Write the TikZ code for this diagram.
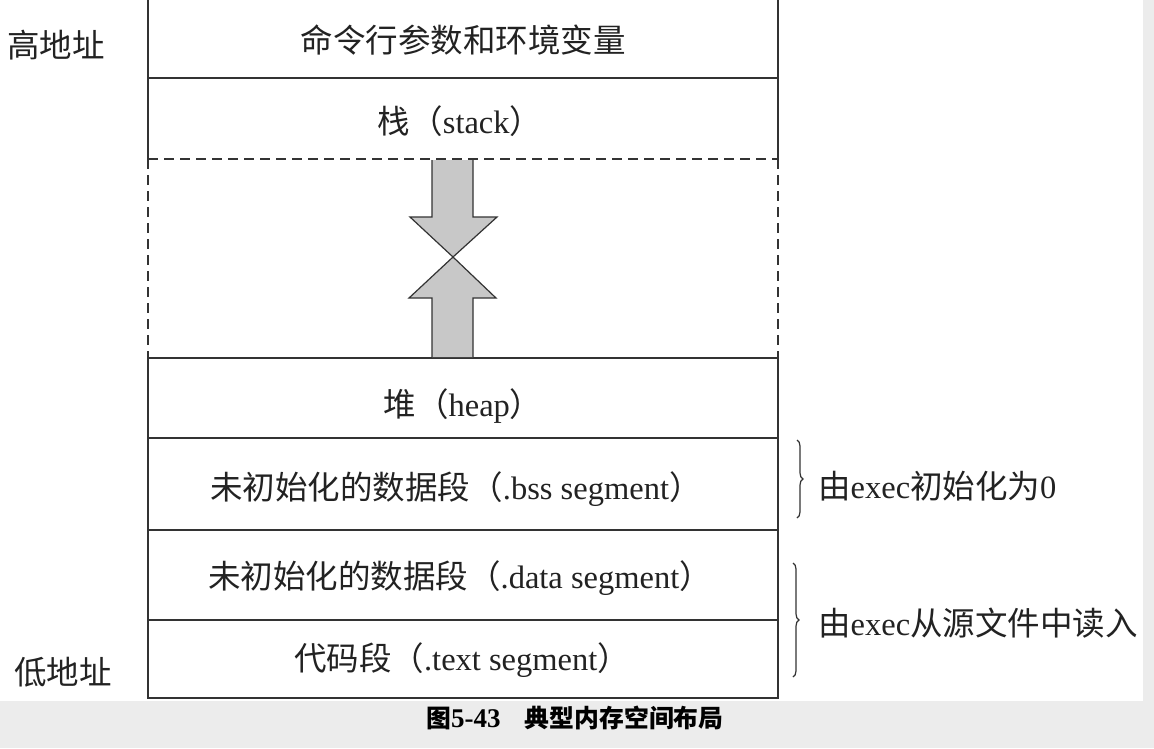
\documentclass[tikz,border=0pt]{standalone}
\usepackage{fontspec}
\setmainfont{Liberation Serif}
\newfontfamily\cjk{Noto Sans CJK SC}
\newfontfamily\cjkcap{Noto Sans CJK SC}[Scale=0.92]
\newcommand\zh[1]{{\cjk #1}}
\usetikzlibrary{decorations.pathreplacing}
\definecolor{lc}{HTML}{333333}
\definecolor{tc}{HTML}{222222}
\definecolor{ag}{HTML}{C8C8C8}
\definecolor{bgg}{HTML}{ECECEC}
\begin{document}
\begin{tikzpicture}[x=1pt,y=-1pt,
  seg/.style={draw=lc, line width=1.6pt},
  dseg/.style={draw=lc, line width=1.4pt, dash pattern=on 10pt off 6pt},
  lbl/.style={font=\fontsize{32.5}{38}\selectfont, inner sep=0pt, text=tc},
  arr/.style={fill=ag, draw=lc, line width=1.2pt, line join=miter},
  brc/.style={draw=lc, line width=1.2pt, decorate, decoration={brace, amplitude=6pt}},
  captxt/.style={font=\fontsize{27}{30}\selectfont\bfseries, inner sep=0pt, text=black}]
\useasboundingbox (0,0) rectangle (1154,748);
\fill[bgg] (0,0) rectangle (1154,748);
\fill[white] (0,0) rectangle (1143,701);

% memory box
\draw[seg] (148,0) -- (148,159);
\draw[seg] (778,0) -- (778,159);
\draw[seg] (148,78) -- (778,78);
\draw[dseg] (148,159) -- (778,159);
\draw[dseg] (148,159) -- (148,358);
\draw[dseg] (778,159) -- (778,358);
\draw[seg] (148,358) rectangle (778,698);
\draw[seg] (148,438) -- (778,438);
\draw[seg] (148,530) -- (778,530);
\draw[seg] (148,620) -- (778,620);

% arrows
\filldraw[arr] (432,160) -- (432,217) -- (410,217) -- (453,257) -- (497,217) -- (473,217) -- (473,160);
\filldraw[arr] (432,357) -- (432,298) -- (409,298) -- (453,257) -- (496,298) -- (473,298) -- (473,357);

% segment labels
\node[lbl] (cmd) at (463,40) {\zh{命令行参数和环境变量}};
\node[lbl] (stack) at (460,121) {\zh{栈（}stack\zh{）}};
\node[lbl] (heap) at (463,406) {\zh{堆（}heap\zh{）}};
\node[lbl] (bss) at (456,489) {\zh{未初始化的数据段（}.bss segment\zh{）}};
\node[lbl] (data) at (460,578) {\zh{未初始化的数据段（}.data segment\zh{）}};
\node[lbl] (text) at (462,660) {\zh{代码段（}.text segment\zh{）}};

% address labels
\node[lbl] (high) at (56,45) {\zh{高地址}};
\node[lbl] (low) at (63,672) {\zh{低地址}};

% braces
\coordinate (b1t) at (797,440);
\coordinate (b1b) at (797,518);
\coordinate (b2t) at (793,563);
\coordinate (b2b) at (793,677);
\draw[brc] (b1t) -- (b1b);
\draw[brc] (b2t) -- (b2b);
\node[lbl, anchor=west] (zero) at (818,486) {\zh{由}exec\zh{初始化为}0};
\node[lbl, anchor=west] (read) at (818,623) {\zh{由}exec\zh{从源文件中读入}};

% caption
\node[captxt] (caption) at (575,718) {{\cjkcap\bfseries 图}5-43\hspace{0.9em}{\cjkcap\bfseries 典型内存空间布局}};
\end{tikzpicture}
\end{document}
